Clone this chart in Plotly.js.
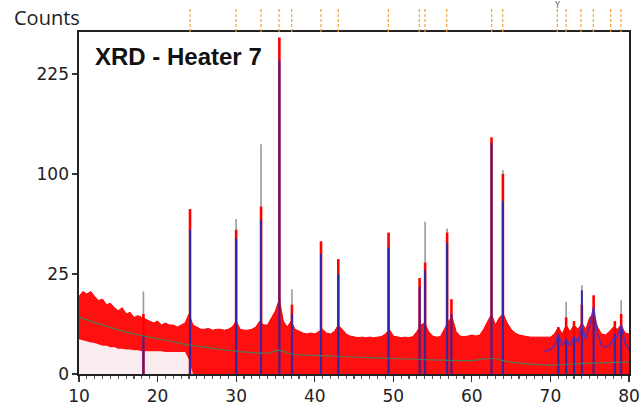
<!DOCTYPE html>
<html>
<head>
<meta charset="utf-8">
<script src="https://cdn.plot.ly/plotly-3.0.1.min.js"></script>
<style>html,body{margin:0;padding:0;background:#fff;}#chart{width:642px;height:415px;}</style>
</head>
<body>
<div id="chart"></div>
<script>
// ---- data (2theta in degrees, intensity in counts) ----
var obs_x = [
 10,10.5,11,11.5,12,12.5,13,13.5,14,14.5,
 15,15.5,16,16.5,17,17.5,18,18.5,19,19.5,
 20,20.5,21,21.5,22,22.5,23,23.5,24,24.5,
 25,25.5,26,26.5,27,27.5,28,28.5,29,29.5,
 30,30.5,31,31.5,32,32.5,33,33.5,34,34.5,
 35,35.5,36,36.5,37,37.5,38,38.5,39,39.5,
 40,40.5,41,41.5,42,42.5,43,43.5,44,44.5,
 45,45.5,46,46.5,47,47.5,48,48.5,49,49.5,
 50,50.5,51,51.5,52,52.5,53,53.5,54,54.5,
 55,55.5,56,56.5,57,57.5,58,58.5,59,59.5,
 60,60.5,61,61.5,62,62.5,63,63.5,64,64.5,
 65,65.5,66,66.5,67,67.5,68,68.5,69,69.5,
 70,70.5,71,71.5,72,72.5,73,73.5,74,74.5,
 75,75.5,76,76.5,77,77.5,78,78.5,79,79.5,
 80];
var obs_hi = [
 15,17,16,17,15,13.5,14,12,12.5,11,
 10,11,9,9.5,8,8.5,8,7.5,7,6.5,
 7,6,6.5,6,6,5.5,6,6.5,9,6,
 5.5,5,5,5.2,4.8,5,5,4.8,5,5.5,
 7,5,4.8,4.8,5,5.5,7,6,6,8,
 10,14,7,5.5,7,5,4.5,4.2,4,4.2,
 4,4.5,5,4.2,4,4.5,6,5,4,3.6,
 3.4,3.3,3.4,3.3,3.4,3.3,3.4,3.5,4,5,
 3.6,3.4,3.3,3.4,3.3,3.5,4.5,6,6.5,4.5,
 3.6,3.4,3.5,5,7,8,4.5,3.6,3.5,3.6,
 3.8,3.6,3.8,5,7,9,6,8,9,6.5,
 5,4.2,3.8,3.6,3.5,3.4,3.4,3.3,3.4,3.3,
 3.4,4,5.5,4,6,4.5,6,5,6.5,5,
 8,9,5.5,4,3.8,4.5,5.5,5,6,4.2,
 4];
var obs_lo = [
 3,2.8,2.6,2.5,2.4,2.2,2,2,1.8,1.8,
 1.6,1.6,1.5,1.5,1.4,1.4,1.3,1.3,1.3,1.3,
 1.3,1.3,1.2,1.2,1.2,1.2,1.2,1.2,0.5,0,
 0,0,0,0,0,0,0,0,0,0,
 0,0,0,0,0,0,0,0,0,0,
 0,0,0,0,0,0,0,0,0,0,
 0,0,0,0,0,0,0,0,0,0,
 0,0,0,0,0,0,0,0,0,0,
 0,0,0,0,0,0,0,0,0,0,
 0,0,0,0,0,0,0,0,0,0,
 0,0,0,0,0,0,0,0,0,0,
 0,0,0,0,0,0,0,0,0,0,
 0,0,0,0,0,0,0,0,0,0,
 0,0,0,0,0,0,0,0,0,0,
 0];

// peaks
var peak_pos  = [18.2, 24.13, 30.0, 33.17, 35.5, 37.1, 40.8, 43.0, 49.4, 53.35, 54.05, 56.85, 57.4, 62.5, 63.95, 71.0, 72.0, 73.0, 74.0, 75.5, 78.2, 79.0];
var peak_obs  = [9,    68,    52,   70,    283,  12,   44,   33,   50,   23,    31,    50,    14,   140,  100,   5.5,  8,    7,    12,   15.5, 7,    9];
var peak_calc = [3.6,  52,    46,   59,    246,  9,    36,   25,   40,   19,    27,    43,    9,    133,  75,    4,    3,    3.5,  17.5, 11,   4,    6];
var peak_ref  = [17,   0,     60,   132,   0,    18,   0,    0,    0,    0,     58,    53,    0,    0,    104,   0,    13,   0,    19.7, 0,    0,    13.6];

// background
var bg_x = [10,12,14,16,18,20,22,24,26,28,30,32,34,35.5,37,40,45,50,55,60,62.5,65,70,75,80];
var bg_y = [8.1,6.6,5.4,4.4,3.7,3.1,2.6,2.1,1.8,1.5,1.3,1.15,1.1,1.4,1.0,0.87,0.72,0.6,0.5,0.45,0.6,0.35,0.2,0.3,0.35];

// calculated profile, high-angle region
var calc_x = [69,70,70.5,71,71.5,72,72.5,73,73.5,74,74.5,75,75.5,76,76.5,77,77.5,78,78.5,79,79.5,80];
var calc_y = [1.2,1.5,2,4,2,3,2,3.5,2.5,6,3,6,11,4,2,1.8,2,3,3.5,6,2.5,1.5];

// reference pattern markers (top strip)
var ref_marks = [24.13,29.98,33.17,35.46,37.07,40.8,43.0,49.37,53.31,54.04,56.8,62.52,63.93,70.88,71.98,73.89,75.46,77.67,78.98];
var ref_flag = 70.88;

var y_ticks_counts = [0,25,100,225];
var y_tick_labels = ['0','25','100','225'];
var x_ticks = [10,20,30,40,50,60,70,80];

// ---- build ----
var sq = function(v){ return Math.sqrt(v); };
function sticks(pos, h){
  var xs=[], ys=[];
  for (var i=0;i<pos.length;i++){ if(h[i]>0){ xs.push(pos[i],pos[i],null); ys.push(0,sq(h[i]),null);} }
  return {x:xs,y:ys};
}
var g = sticks(peak_pos, peak_ref);
var r = sticks(peak_pos, peak_obs);
var b = sticks(peak_pos, peak_calc);
var tx=[], ty=[];
ref_marks.forEach(function(p){ tx.push(p,p,null); ty.push(0,1,null); });

var traces = [
  {x:g.x, y:g.y, mode:'lines', line:{color:'#999999', width:1.6}, hoverinfo:'skip'},
  {x:obs_x, y:obs_lo.map(sq), mode:'lines', line:{width:0, color:'rgba(0,0,0,0)'}, fill:'tozeroy', fillcolor:'rgba(225,140,160,0.16)', hoverinfo:'skip'},
  {x:obs_x, y:obs_hi.map(sq), mode:'lines', line:{color:'#ff0000', width:1}, fill:'tonexty', fillcolor:'#ff1010', hoverinfo:'skip'},
  {x:r.x, y:r.y, mode:'lines', line:{color:'#ff0000', width:2.6}, hoverinfo:'skip'},
  {x:b.x, y:b.y, mode:'lines', line:{color:'#2a2aa8', width:2}, hoverinfo:'skip'},
  {x:calc_x, y:calc_y.map(sq), mode:'lines', line:{color:'#5a2ab0', width:1.5}, hoverinfo:'skip'},
  {x:bg_x, y:bg_y.map(sq), mode:'lines', line:{color:'#4d7a55', width:1.2, shape:'spline'}, hoverinfo:'skip'},
  {x:tx, y:ty, yaxis:'y2', mode:'lines', line:{color:'#f0a23a', width:1.2, dash:'3px,2px'}, hoverinfo:'skip'}
];

var axFont = {family:'DejaVu Sans, Verdana, sans-serif', size:17, color:'#222'};
var layout = {
  width:642, height:415,
  margin:{l:79, r:13, t:9, b:41},
  paper_bgcolor:'#fff', plot_bgcolor:'#fff',
  showlegend:false,
  xaxis:{range:[10,80], tickvals:x_ticks, ticks:'outside', ticklen:6, tickwidth:1.2, tickcolor:'#333',
         showline:true, linecolor:'#222', linewidth:1.6, mirror:true, showgrid:false, zeroline:false,
         tickfont:axFont, anchor:'y',
         minor:{dtick:1, ticks:'outside', ticklen:3, tickcolor:'#555', showgrid:false}},
  yaxis:{domain:[0,0.937], range:[0,17.1], tickvals:y_ticks_counts.map(sq), ticktext:y_tick_labels,
         ticks:'outside', ticklen:5, tickwidth:1.2, tickcolor:'#333',
         showline:true, linecolor:'#222', linewidth:1.6, mirror:true, showgrid:false, zeroline:false,
         tickfont:axFont},
  yaxis2:{domain:[0.937,1], range:[0,1], visible:false, anchor:'x'},
  annotations:[
    {text:'<b>XRD - Heater 7</b>', xref:'paper', yref:'paper', x:(93-79)/550, y:(374-56.5)/365, xanchor:'left', yanchor:'middle', showarrow:false,
     font:{family:'Liberation Sans, Arial, sans-serif', size:24, color:'#111'}},
    {text:'Counts', xref:'paper', yref:'paper', x:(12-79)/550, y:(374-17)/365, xanchor:'left', yanchor:'middle', showarrow:false,
     font:{family:'Open Sans, sans-serif', size:20, color:'#222'}},
    {text:'Y', xref:'x', yref:'paper', x:ref_flag, y:(374-5)/365, xanchor:'center', yanchor:'middle', showarrow:false,
     font:{family:'DejaVu Sans, sans-serif', size:8, color:'#555'}}
  ]
};
Plotly.newPlot('chart', traces, layout, {staticPlot:true, displayModeBar:false});
</script>
</body>
</html>
